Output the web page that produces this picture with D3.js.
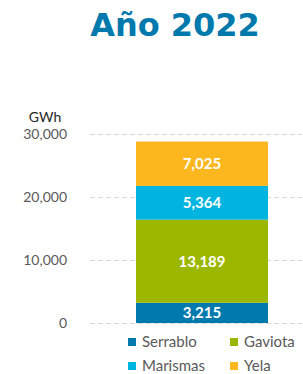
<!DOCTYPE html>
<html>
<head>
<meta charset="utf-8">
<script src="https://cdn.jsdelivr.net/npm/d3@7"></script>
<style>
  body { margin: 0; background: #fff; }
  svg { display: block; }
</style>
</head>
<body>
<svg id="chart" width="303" height="374"></svg>
<script>
  // chart data
  const categories = ['2022'];
  const seriesNames = ['Serrablo', 'Gaviota', 'Marismas', 'Yela'];
  const seriesValues = [3215, 13189, 5364, 7025];
  const seriesColors = ['#0079AD', '#9BB700', '#00B4E0', '#FDB71E'];
  const yTicks = [0, 10000, 20000, 30000];

  const svg = d3.select('#chart');
  const fmt = d3.format(',');

  const y = d3.scaleLinear().domain([0, 30000]).range([323, 134]);

  // title
  svg.append('text')
    .attr('x', 175).attr('y', 36)
    .attr('text-anchor', 'middle')
    .attr('font-family', 'DejaVu Sans')
    .attr('font-weight', 'bold')
    .attr('font-size', 32)
    .attr('fill', '#0079AD')
    .text('Año 2022');

  // gridlines
  svg.append('g')
    .selectAll('line')
    .data(yTicks)
    .join('line')
    .attr('x1', 90).attr('x2', 302)
    .attr('y1', d => y(d) + 0.5).attr('y2', d => y(d) + 0.5)
    .attr('stroke', '#D9D9D9')
    .attr('stroke-dasharray', '5,3');

  // y axis labels
  const yAxis = svg.append('g')
    .attr('transform', 'translate(80,0)')
    .call(d3.axisLeft(y).tickValues(yTicks).tickFormat(fmt).tickSize(0).tickPadding(13));
  yAxis.select('.domain').remove();
  yAxis.selectAll('text')
    .attr('font-family', 'Lato')
    .attr('font-size', 14)
    .attr('fill', '#595959');

  svg.append('text')
    .attr('x', 45).attr('y', 122)
    .attr('text-anchor', 'middle')
    .attr('font-family', 'Lato')
    .attr('font-size', 14)
    .attr('fill', '#262626')
    .text('GWh');

  // stacked segments
  let acc = 0;
  const stacked = seriesValues.map((v, i) => {
    const seg = { name: seriesNames[i], value: v, y0: acc, y1: acc + v, color: seriesColors[i] };
    acc += v;
    return seg;
  });

  // one category -> single bar
  const x = d3.scaleBand().domain(categories).range([136, 268]);

  svg.append('g')
    .selectAll('rect')
    .data(stacked)
    .join('rect')
    .attr('x', x(categories[0]))
    .attr('width', x.bandwidth())
    .attr('y', d => y(d.y1))
    .attr('height', d => y(d.y0) - y(d.y1))
    .attr('fill', d => d.color);

  svg.append('g')
    .selectAll('text')
    .data(stacked)
    .join('text')
    .attr('x', x(categories[0]) + x.bandwidth() / 2)
    .attr('y', d => (y(d.y0) + y(d.y1)) / 2)
    .attr('dy', '0.36em')
    .attr('text-anchor', 'middle')
    .attr('font-family', 'Lato')
    .attr('font-weight', 'bold')
    .attr('font-size', 15)
    .attr('fill', '#fff')
    .text(d => fmt(d.value));

  // legend
  const legendPos = [[128, 342], [230, 342], [128, 366], [230, 366]];
  const legend = svg.append('g')
    .selectAll('g')
    .data(stacked)
    .join('g')
    .attr('transform', (d, i) => `translate(${legendPos[i][0]},${legendPos[i][1]})`);
  legend.append('rect')
    .attr('x', 0).attr('y', -4)
    .attr('width', 8).attr('height', 8)
    .attr('fill', d => d.color);
  legend.append('text')
    .attr('x', 14).attr('y', 0)
    .attr('dy', '0.36em')
    .attr('font-family', 'Lato')
    .attr('font-size', 15)
    .attr('fill', '#595959')
    .text(d => d.name);
</script>
</body>
</html>
